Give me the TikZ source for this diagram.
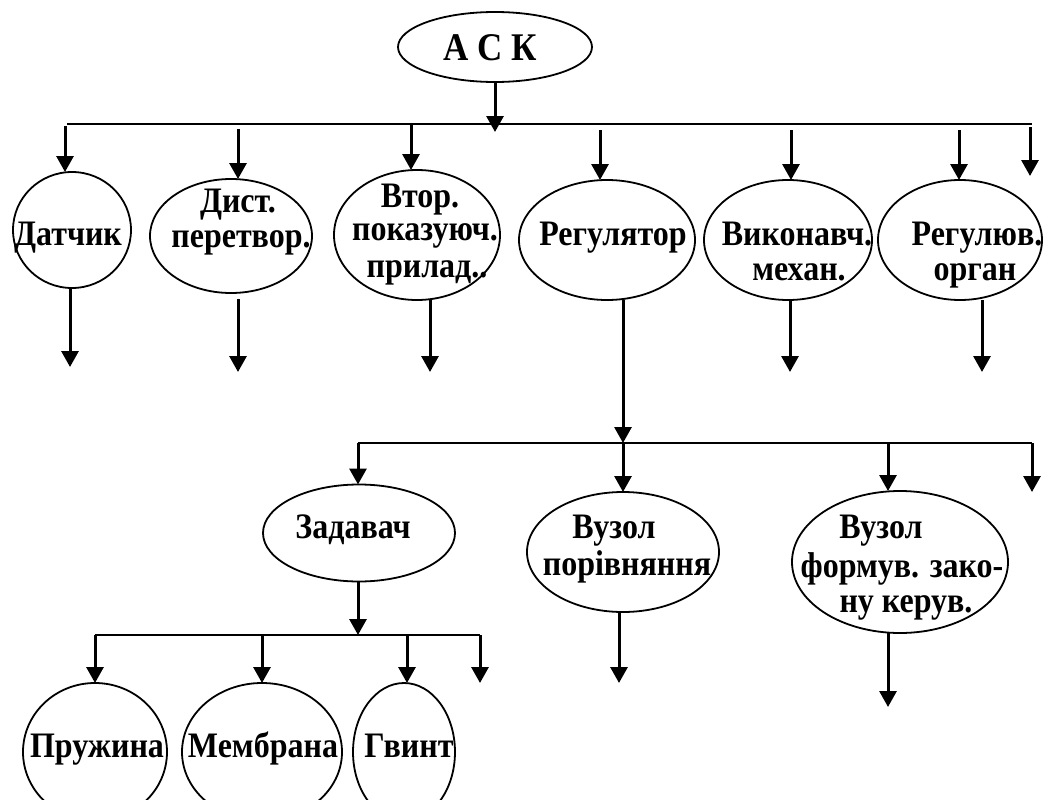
\documentclass[tikz,border=0pt]{standalone}
\usepackage{fontspec}
\setmainfont{Liberation Serif}
\usetikzlibrary{arrows.meta,shapes.geometric}
% labels are set a little taller than the plain face
\newcommand{\tallt}[1]{\scalebox{1}[1.12]{#1}}
\begin{document}
\begin{tikzpicture}[x=1pt,y=-1pt,
  oval/.style={draw, ellipse, line width=1.8pt, inner sep=0pt, outer sep=0pt},
  txt/.style={inner sep=0pt, anchor=base, font=\fontsize{32}{35}\selectfont\bfseries},
  bus/.style={line width=1.5pt},
  arr/.style={line width=3pt, -{Triangle[width=17pt,length=16pt]}}]
\useasboundingbox (0,0) rectangle (1044,800);
\clip (0,0) rectangle (1044,800);

% ---------- top node ----------
\node[oval, minimum width=194, minimum height=70] (ask) at (495,47) {};
\node[txt, font=\fontsize{35}{40}\selectfont\bfseries] (ask-t) at (490,60) {\tallt{А С К}};
\coordinate (ask-end) at (495,132);
\draw[arr] (ask.south) -- (ask-end);

% ---------- first level ----------
\coordinate (b1l) at (67,124);
\coordinate (b1r) at (1032,124);
\draw[bus] (b1l) -- (b1r);

\node[oval, minimum width=118, minimum height=116] (dat)  at (72,230)  {};
\node[oval, minimum width=162, minimum height=114] (dist) at (231,236) {};
\node[oval, minimum width=166, minimum height=130] (vtor) at (417,235) {};
\node[oval, minimum width=176, minimum height=120] (reg)  at (607,240) {};
\node[oval, minimum width=168, minimum height=120] (vyk)  at (788,240) {};
\node[oval, minimum width=164, minimum height=120] (rorg) at (960,240) {};

\node[txt] (dat-t)   at (68,245)  {\tallt{Датчик}};
\node[txt] (dist-t1) at (238,212) {\tallt{Дист.}};
\node[txt] (dist-t2) at (241,247) {\tallt{перетвор.}};
\node[txt] (vtor-t1) at (420,207) {\tallt{Втор.}};
\node[txt] (vtor-t2) at (425,240) {\tallt{показуюч.}};
\node[txt] (vtor-t3) at (427,277) {\tallt{прилад..}};
\node[txt] (reg-t)   at (613,245) {\tallt{Регулятор}};
\node[txt] (vyk-t1)  at (797,245) {\tallt{Виконавч.}};
\node[txt] (vyk-t2)  at (799,280) {\tallt{механ.}};
\node[txt] (rorg-t1) at (977,245) {\tallt{Регулюв.}};
\node[txt] (rorg-t2) at (975,280) {\tallt{орган}};

% taps from the first bus
\coordinate (t1) at (65,126);
\coordinate (t2) at (238,129);
\coordinate (t3) at (411,123);
\coordinate (t4) at (600,130);
\coordinate (t5) at (791,130);
\coordinate (t6) at (959,130);
\coordinate (t7) at (1030,127);
\coordinate (t7e) at (1030,176);
\draw[arr] (t1) -- (t1 |- dat.north);
\draw[arr] (t2) -- (t2 |- dist.north);
\draw[arr] (t3) -- (t3 |- vtor.north);
\draw[arr] (t4) -- (t4 |- reg.north);
\draw[arr] (t5) -- (t5 |- vyk.north);
\draw[arr] (t6) -- (t6 |- rorg.north);
\draw[arr] (t7) -- (t7e);

% outputs of the first level
\coordinate (o1) at (70,367);
\coordinate (o2) at (238,372);
\coordinate (o3) at (430,372);
\coordinate (o5) at (790,372);
\coordinate (o6) at (982,372);
\draw[arr] (o1 |- dat.south) -- (o1);
\draw[arr] ([yshift=-6pt]o2 |- dist.south) -- (o2);
\draw[arr] (o3 |- vtor.south) -- (o3);
\draw[arr] (o5 |- vyk.south) -- (o5);
\draw[arr] (o6 |- rorg.south) -- (o6);

% ---------- regulator breakdown ----------
\coordinate (b2l) at (358,443);
\coordinate (b2r) at (1032,443);
\coordinate (b2m) at (623,443);
\draw[bus] (b2l) -- (b2r);
\draw[arr] (b2m |- reg.south) -- (b2m);

\node[oval, minimum width=192, minimum height=97]  (zad)  at (359,533) {};
\node[oval, minimum width=192, minimum height=120] (vuz)  at (623,552) {};
\node[oval, minimum width=216, minimum height=142] (form) at (900,562) {};

\node[txt] (zad-t)   at (353,538) {\tallt{Задавач}};
\node[txt] (vuz-t1)  at (614,538) {\tallt{Вузол}};
\node[txt] (vuz-t2)  at (627,575) {\tallt{порівняння}};
\node[txt] (form-t1) at (881,538) {\tallt{Вузол}};
\node[txt] (form-t2) at (902,577) {\tallt{формув. зако-}};
\node[txt] (form-t3) at (906,612) {\tallt{ну керув.}};

\coordinate (u3) at (888,443);
\coordinate (u4e) at (1032,492);
\draw[arr] (b2l) -- (b2l |- zad.north);
\draw[arr] (b2m) -- (b2m |- vuz.north);
\draw[arr] (u3) -- (u3 |- form.north);
\draw[arr] (b2r) -- (u4e);

\coordinate (vo) at (619,683);
\coordinate (fo) at (888,707);
\draw[arr] (vo |- vuz.south) -- (vo);
\draw[arr] (fo |- form.south) -- (fo);

% ---------- setter breakdown ----------
\coordinate (b3l) at (95,635);
\coordinate (b3r) at (480,635);
\coordinate (b3m) at (358,635);
\draw[bus] (b3l) -- (b3r);
\draw[arr] (b3m |- zad.south) -- (b3m);

\node[oval, minimum width=144, minimum height=138] (pruz) at (95,752)  {};
\node[oval, minimum width=160, minimum height=138] (memb) at (262,752) {};
\node[oval, minimum width=102, minimum height=138] (gv)   at (404,752) {};

\node[txt] (pruz-t) at (97,757)  {\tallt{Пружина}};
\node[txt] (memb-t) at (263,757) {\tallt{Мембрана}};
\node[txt] (gv-t)   at (409,757) {\tallt{Гвинт}};

\coordinate (s2) at (262,635);
\coordinate (s3) at (407,635);
\coordinate (s4e) at (480,683);
\draw[arr] (b3l) -- (b3l |- pruz.north);
\draw[arr] (s2) -- (s2 |- memb.north);
\draw[arr] (s3) -- (s3 |- gv.north);
\draw[arr] (b3r) -- (s4e);
\end{tikzpicture}
\end{document}
